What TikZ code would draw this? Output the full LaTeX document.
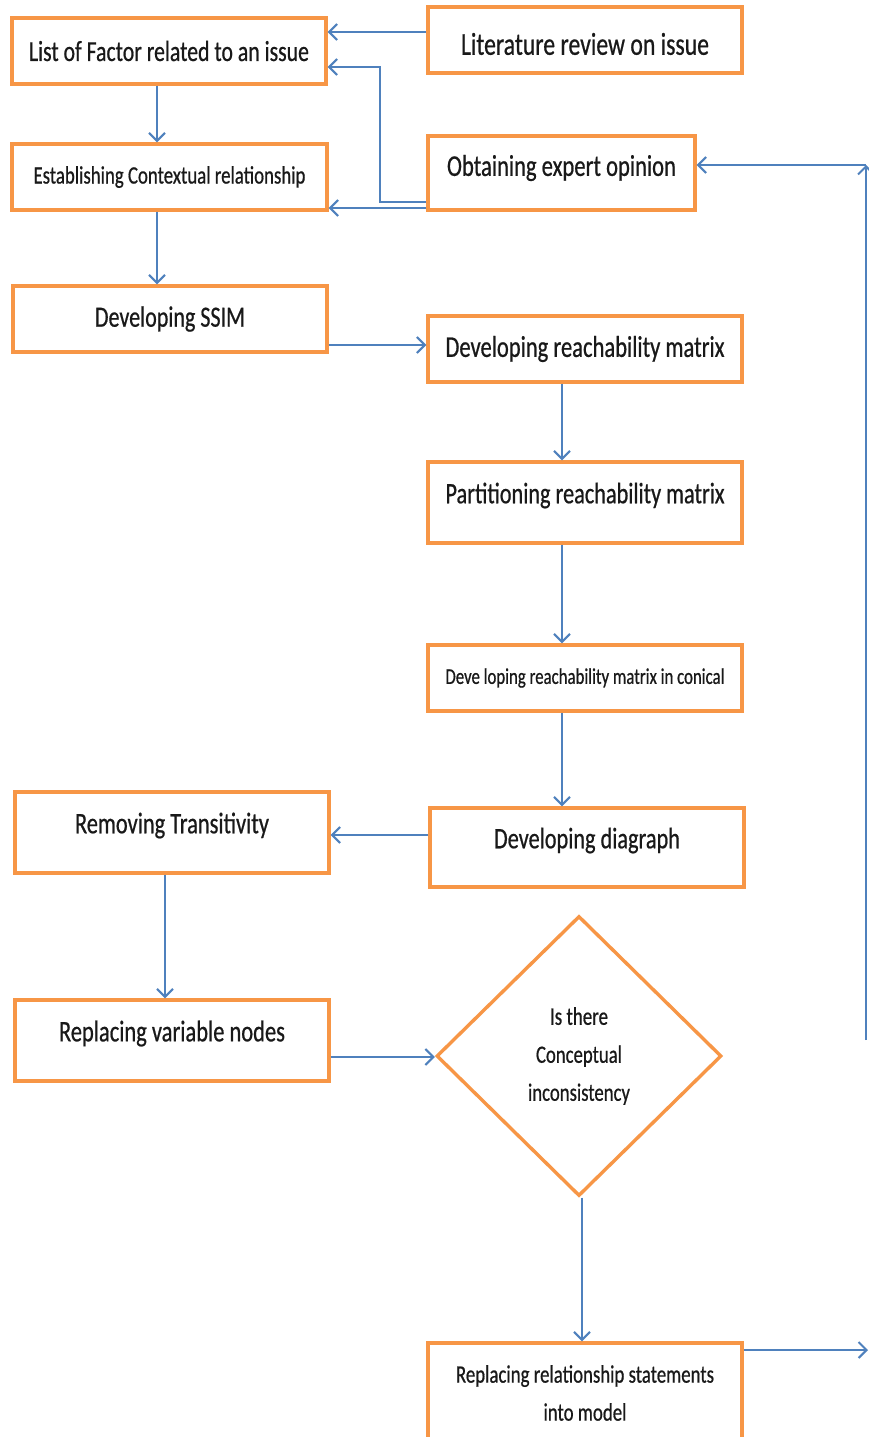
\documentclass[tikz,border=0pt]{standalone}
\usepackage{fontspec}
\setmainfont{Carlito}[FakeStretch=0.75,FakeBold=0.6]
\usepackage{graphicx}
\usetikzlibrary{arrows.meta,shapes.geometric}
\definecolor{boxor}{RGB}{247,150,70}
\definecolor{arrbl}{RGB}{79,129,189}
\newcommand{\tx}[2]{\resizebox{#1}{!}{#2}}
\newcommand{\up}[2]{\raisebox{#1}[\height][\depth]{#2}}
\begin{document}
\begin{tikzpicture}[x=1pt,y=-1pt,
  box/.style={draw=boxor,line width=3.4pt,rectangle,inner sep=0pt,minimum width=314pt,minimum height=66pt,fill=white,text=black!90},
  arr/.style={draw=arrbl,line width=2.2pt,-{Straight Barb[length=8pt,width=16pt,line width=2pt]}}]
\fill[white] (0,0) rectangle (869,1437);
\useasboundingbox (0,0) rectangle (869,1437);

\node[box] (list) at (169,51) {\tx{280pt}{List of Factor related to an issue}};
\node[box] (lit) at (585,40) {\up{-4pt}{\tx{248pt}{Literature review on issue}}};
\node[box,minimum width=315pt] (est) at (169.5,177) {\tx{272pt}{Establishing Contextual relationship}};
\node[box,minimum width=267pt,minimum height=74pt] (exp) at (561.5,173) {\up{5pt}{\tx{229pt}{Obtaining expert opinion}}};
\node[box] (ssim) at (170,319) {\tx{150pt}{Developing SSIM}};
\node[box] (reach) at (585,349) {\tx{279pt}{Developing reachability matrix}};
\node[box,minimum height=81pt] (part) at (585,502.5) {\up{7pt}{\tx{279pt}{Partitioning reachability matrix}}};
\node[box] (con) at (585,678) {\tx{279pt}{Deve loping reachability matrix in conical}};
\node[box,minimum height=79pt] (dia) at (587,847.5) {\up{7pt}{\tx{186pt}{Developing diagraph}}};
\node[box,minimum height=81pt] (rem) at (172,832.5) {\up{7pt}{\tx{194pt}{Removing Transitivity}}};
\node[box,minimum height=81pt] (rep) at (172,1040.5) {\up{7pt}{\tx{226pt}{Replacing variable nodes}}};
\node[draw=boxor,line width=3.4pt,diamond,minimum width=285pt,minimum height=280pt,inner sep=0pt,align=center,text=black!90,font=\fontsize{10pt}{38pt}\selectfont] (dec) at (579,1056)
  {\tx{58pt}{Is there}\\\tx{86pt}{Conceptual}\\\tx{102pt}{inconsistency}};
\node[box,minimum height=100pt,align=center,font=\fontsize{10pt}{38pt}\selectfont] (rel) at (585,1393)
  {\tx{258pt}{Replacing relationship statements}\\\tx{83pt}{into model}};

\draw[arr] ([yshift=8pt]lit.west) coordinate (a1) -- (a1 -| list.east);
\draw[arr] ([yshift=-29pt]exp.west) -| ([xshift=52pt,yshift=-16pt]list.east) -- ([yshift=-16pt]list.east);
\draw[arr] ([yshift=-35pt]exp.west) coordinate (a2) -- (a2 -| est.east);
\draw[arr] ([xshift=-12pt]list.south) coordinate (a3) -- (a3 |- est.north);
\draw[arr] ([xshift=-12.5pt]est.south) coordinate (a4) -- (a4 |- ssim.north);
\draw[arr] ([yshift=-26pt]ssim.east) coordinate (a5) -- (a5 -| reach.west);
\draw[arr] ([xshift=-23pt]reach.south) coordinate (a6) -- (a6 |- part.north);
\draw[arr] ([xshift=-23pt]part.south) coordinate (a7) -- (a7 |- con.north);
\draw[arr] ([xshift=-23pt]con.south) coordinate (a8) -- (a8 |- dia.north);
\draw[arr] ([yshift=12.5pt]dia.west) coordinate (a9) -- (a9 -| rem.east);
\draw[arr] ([xshift=-7pt]rem.south) coordinate (a10) -- (a10 |- rep.north);
\draw[arr] ([yshift=-16.5pt]rep.east) coordinate (a11) -- (a11 -| dec.west);
\draw[arr] ([xshift=3pt]dec.south) coordinate (a12) -- (a12 |- rel.north);
\coordinate (out) at (868,1350);
\draw[arr] (rel.east |- out) -- (out);
\coordinate (rb) at (866,1040);
\coordinate (rt) at (866,165);
\draw[arr] (rb) -- (rt);
\draw[arr] (rt) -- (rt -| exp.east);
\end{tikzpicture}
\end{document}
